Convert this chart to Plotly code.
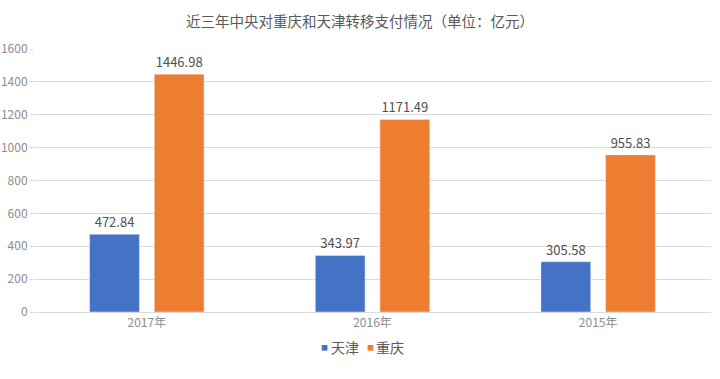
import plotly.graph_objects as go

categories = ["2017年", "2016年", "2015年"]
tianjin = [472.84, 343.97, 305.58]
chongqing = [1446.98, 1171.49, 955.83]
series_names = ["天津", "重庆"]
colors = ["#4472C4", "#ED7D31"]

font_family = "Noto Sans CJK SC, Noto Sans, sans-serif"

fig = go.Figure()
for name, vals, col in zip(series_names, [tianjin, chongqing], colors):
    fig.add_trace(go.Bar(
        x=categories, y=vals, name=name, marker_color=col,
        text=[f"{v:.2f}" for v in vals], textposition="outside",
        textfont=dict(size=13, color="#505050", family=font_family),
        cliponaxis=False, showlegend=False,
    ))

# compact legend (square marker + label), laid out in paper coordinates
legend_x = [324.5, 370]  # pixel positions of the legend squares
for name, col, px in zip(series_names, colors, legend_x):
    fig.add_annotation(xref="paper", yref="paper", x=(px - 34) / 677, y=-0.133,
                       text="■", showarrow=False, xanchor="center", yanchor="middle",
                       font=dict(size=7, color=col, family=font_family))
    fig.add_annotation(xref="paper", yref="paper", x=(px + 6 - 34) / 677, y=-0.133,
                       text=name, showarrow=False, xanchor="left", yanchor="middle",
                       xshift=-2,
                       font=dict(size=14, color="#595959", family=font_family))

fig.update_layout(
    width=720, height=379,
    margin=dict(l=34, r=9, t=49, b=67),
    paper_bgcolor="white", plot_bgcolor="white",
    barmode="group", bargap=0.427, bargroupgap=0.23,
    title=dict(text="近三年中央对重庆和天津转移支付情况（单位：亿元）",
               x=0.5, xanchor="center", y=0.942, yanchor="middle",
               font=dict(size=14.5, color="#595959", family=font_family)),
    showlegend=False,
    font=dict(family=font_family),
)
fig.update_xaxes(showgrid=False, showline=True, linecolor="#D9D9D9", linewidth=1,
                 automargin=False,
                 tickfont=dict(size=12, color="#8C8C8C", family=font_family), ticks="")
fig.update_yaxes(range=[0, 1600], dtick=200, showgrid=True, gridcolor="#D9D9D9",
                 gridwidth=1, zeroline=False, showline=False, automargin=False,
                 ticks="outside", ticklen=3, tickcolor="#D9D9D9",
                 tickfont=dict(size=12, color="#8C8C8C", family=font_family))

fig.write_html("out.html")
